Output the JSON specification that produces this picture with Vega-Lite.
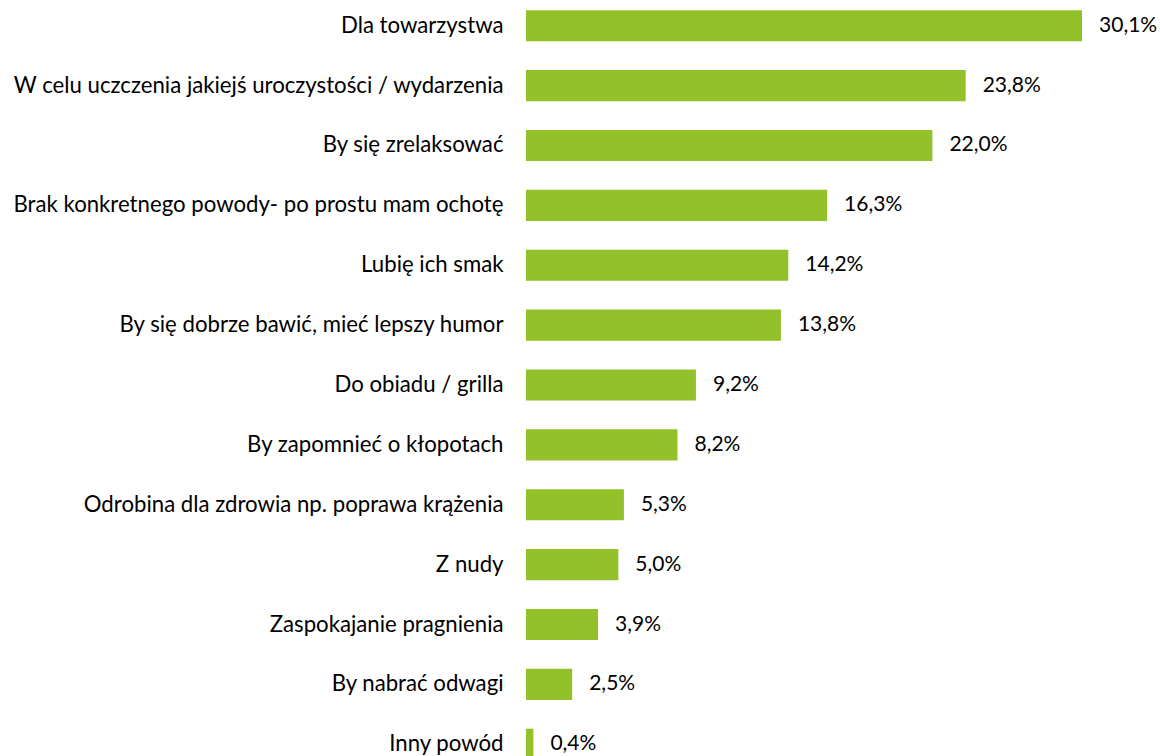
{
  "$schema": "https://vega.github.io/schema/vega-lite/v6.json",
  "autosize": "none",
  "width": 600,
  "height": 770,
  "padding": {"left": 526, "top": 0, "right": 34, "bottom": 0},
  "background": "white",
  "config": {
    "view": {"stroke": null},
    "font": "Lato",
    "locale": {"number": {"decimal": ",", "thousands": " ", "grouping": [3], "currency": ["", " zł"]}}
  },
  "data": {
    "values": [
      {"reason": "Dla towarzystwa", "share": 0.301},
      {"reason": "W celu uczczenia jakiejś uroczystości / wydarzenia", "share": 0.238},
      {"reason": "By się zrelaksować", "share": 0.220},
      {"reason": "Brak konkretnego powody- po prostu mam ochotę", "share": 0.163},
      {"reason": "Lubię ich smak", "share": 0.142},
      {"reason": "By się dobrze bawić, mieć lepszy humor", "share": 0.138},
      {"reason": "Do obiadu / grilla", "share": 0.092},
      {"reason": "By zapomnieć o kłopotach", "share": 0.082},
      {"reason": "Odrobina dla zdrowia np. poprawa krążenia", "share": 0.053},
      {"reason": "Z nudy", "share": 0.050},
      {"reason": "Zaspokajanie pragnienia\u00a0", "share": 0.039},
      {"reason": "By nabrać odwagi", "share": 0.025},
      {"reason": "Inny powód", "share": 0.004}
    ]
  },
  "encoding": {
    "y": {
      "field": "reason",
      "type": "nominal",
      "sort": null,
      "scale": {"paddingInner": 0.48, "paddingOuter": 0.17},
      "axis": {
        "title": null,
        "domain": false,
        "ticks": false,
        "labelPadding": 23,
        "labelFontSize": 22.2,
        "labelColor": "#000000",
        "labelFont": "Lato",
        "labelLimit": 600
      }
    },
    "x": {
      "field": "share",
      "type": "quantitative",
      "scale": {"domain": [0, 0.3248], "nice": false, "zero": true},
      "axis": null
    }
  },
  "layer": [
    {"mark": {"type": "bar", "color": "#93C12A"}},
    {
      "mark": {"type": "text", "align": "left", "dx": 17, "fontSize": 21, "color": "#000000", "font": "Lato"},
      "encoding": {"text": {"field": "share", "type": "quantitative", "format": ".1%"}}
    }
  ]
}
